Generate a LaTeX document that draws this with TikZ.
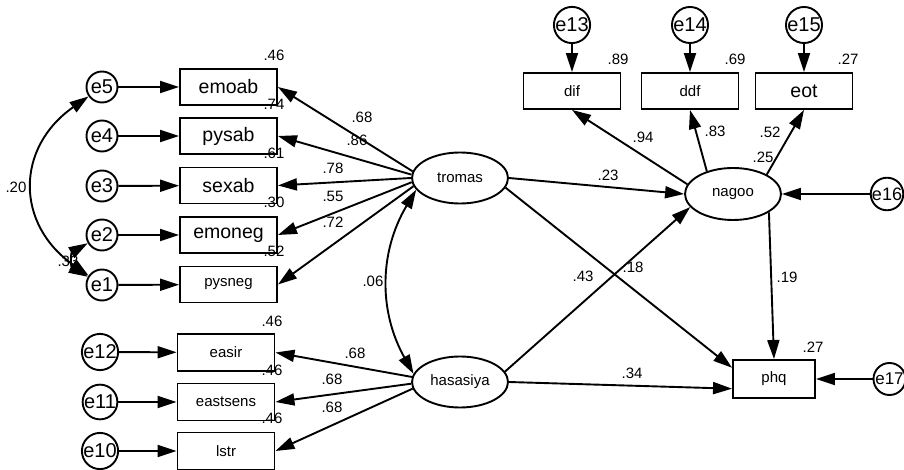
\documentclass[tikz,border=0pt]{standalone}
\usepackage{fontspec}
\setmainfont{Liberation Sans}
\usepackage{tikz}
\usetikzlibrary{arrows.meta,shapes.geometric}

\begin{document}
\begin{tikzpicture}[x=1pt, y=-1pt,
                    obsbox/.style={draw, line width=1.9pt, minimum width=97pt, minimum height=36pt,
                                   inner sep=0pt, font=\fontsize{19.5}{22}\selectfont},
                    obssmall/.style={obsbox, font=\fontsize{15}{18}\selectfont},
                    latent/.style={draw, ellipse, line width=1.9pt, minimum width=96pt, minimum height=51pt,
                                   inner sep=0pt, font=\fontsize{15}{18}\selectfont},
                    errc/.style={draw, circle, line width=1.9pt, minimum size=31pt, inner sep=0pt,
                                 font=\fontsize{20}{22}\selectfont},
                    arr/.style={-{Triangle[length=19pt,width=12pt]}, line width=1.9pt},
                    dbl/.style={{Triangle[length=19pt,width=12pt]}-{Triangle[length=19pt,width=12pt]}, line width=1.9pt},
                    val/.style={inner sep=0pt, font=\fontsize{15}{18}\selectfont}
                ]
                    \useasboundingbox (0,0) rectangle (904,470);
                    \node[errc] (e5) at (102,87) {e5};
                    \node[errc] (e4) at (102,136) {e4};
                    \node[errc] (e3) at (102,186) {e3};
                    \node[errc] (e2) at (102,235) {e2};
                    \node[errc] (e1) at (102,285) {e1};
                    \node[obsbox] (emoab) at (228.5,87) {emoab};
                    \node[obsbox] (pysab) at (228.5,136) {pysab};
                    \node[obsbox] (sexab) at (228.5,185.5) {sexab};
                    \node[obsbox] (emoneg) at (228.5,235) {emoneg};
                    \node[obssmall] (pysneg) at (228.5,284.5) {pysneg};
                    \node[errc, minimum size=33pt] (e12) at (100,352) {e12};
                    \node[errc, minimum size=33pt] (e11) at (100,402) {e11};
                    \node[errc, minimum size=33pt] (e10) at (100,451) {e10};
                    \node[obssmall, minimum height=37pt] (easir) at (226,352.5) {easir};
                    \node[obssmall, minimum height=37pt] (eastsens) at (226,402) {eastsens};
                    \node[obssmall, minimum height=37pt] (lstr) at (226,451) {lstr};
                    \node[latent] (tromas) at (460,178) {tromas};
                    \node[latent] (hasasiya) at (460,382) {hasasiya};
                    \node[latent, minimum height=52pt] (nagoo) at (733,194) {nagoo};
                    \node[obssmall] (dif) at (572,91) {dif};
                    \node[obssmall] (ddf) at (690,91) {ddf};
                    \node[obsbox] (eot) at (804,91) {eot};
                    \node[errc, minimum size=34pt] (e13) at (572,25) {e13};
                    \node[errc, minimum size=34pt] (e14) at (690,25) {e14};
                    \node[errc, minimum size=34pt] (e15) at (804,25) {e15};
                    \node[obssmall, minimum width=82pt, minimum height=38pt] (phq) at (774,379) {phq};
                    \node[errc, minimum size=32pt, font=\fontsize{18}{20}\selectfont] (e16) at (887,194) {e16};
                    \node[errc, minimum size=32pt, font=\fontsize{17}{20}\selectfont] (e17) at (889.5,379) {e17};

                    \node[val] (r2emoab) at (274,55) {.46};
                    \node[val] (r2pysab) at (274,104) {.74};
                    \node[val] (r2sexab) at (274,153) {.61};
                    \node[val] (r2emoneg) at (274,202) {.30};
                    \node[val] (r2pysneg) at (274,251) {.52};
                    \node[val] (wemoab) at (362,117) {.68};
                    \node[val] (wpysab) at (357,140) {.86};
                    \node[val] (wsexab) at (333,168) {.78};
                    \node[val] (wemoneg) at (333,196) {.55};
                    \node[val] (wpysneg) at (333,222) {.72};
                    \node[val] (cove5e1) at (16,187) {.20};
                    \node[val] (cove2e1) at (68,261) {.33};
                    \node[val] (covlat) at (373,281) {.06};
                    \node[val] (r2easir) at (272,321) {.46};
                    \node[val] (r2eastsens) at (272,370) {.46};
                    \node[val] (r2lstr) at (272,418) {.46};
                    \node[val] (weasir) at (355,353) {.68};
                    \node[val] (weastsens) at (332,379) {.68};
                    \node[val] (wlstr) at (332,407) {.68};
                    \node[val] (r2dif) at (618,59) {.89};
                    \node[val] (r2ddf) at (735,59) {.69};
                    \node[val] (r2eot) at (848,59) {.27};
                    \node[val] (wdif) at (643,137) {.94};
                    \node[val] (wddf) at (715,131) {.83};
                    \node[val] (weot) at (770,132) {.52};
                    \node[val] (r2nagoo) at (763,157) {.25};
                    \node[val] (ptn) at (608,175) {.23};
                    \node[val] (phn) at (583,276) {.43};
                    \node[val] (ptp) at (633,267) {.18};
                    \node[val] (pnp) at (787,277) {.19};
                    \node[val] (r2phq) at (813,347) {.27};
                    \node[val] (php) at (632,373) {.34};

                    \draw[arr] (e5) -- (emoab);
                    \draw[arr] (e4) -- (pysab);
                    \draw[arr] (e3) -- (sexab);
                    \draw[arr] (e2) -- (emoneg);
                    \draw[arr] (e1) -- (pysneg);
                    \draw[arr] (e12) -- (easir);
                    \draw[arr] (e11) -- (eastsens);
                    \draw[arr] (e10) -- (lstr);
                    \draw[arr] (tromas.172) -- (emoab.east);
                    \draw[arr] (tromas.176) -- (pysab.east);
                    \draw[arr] (tromas.180) -- (sexab.east);
                    \draw[arr] (tromas.185) -- (emoneg.east);
                    \draw[arr] (tromas.190) -- (pysneg.east);
                    \draw[arr] (hasasiya.174) -- (easir.east);
                    \draw[arr] (hasasiya.182) -- (eastsens.east);
                    \draw[arr] (hasasiya.188) -- (lstr.east);
                    \draw[dbl] (tromas.195) to[bend right=30] (hasasiya.170);
                    \draw[dbl] (e5.215) to[out=215, in=145, looseness=1.28] (e1.145);
                    \draw[dbl] (e2.210) to[out=210, in=150, looseness=1.5] (e1.150);
                    \draw[arr] (e13) -- (dif);
                    \draw[arr] (e14) -- (ddf);
                    \draw[arr] (e15) -- (eot);
                    \draw[arr] (nagoo.168) -- (dif.south);
                    \draw[arr] (nagoo.139) -- (ddf.south);
                    \draw[arr] (nagoo.30) -- (eot.south);
                    \draw[arr] (tromas.east) -- (nagoo.west);
                    \draw[arr] (tromas.348) -- (phq.165);
                    \draw[arr] (hasasiya.13) -- (nagoo.197);
                    \draw[arr] (hasasiya.east) -- (phq.193);
                    \draw[arr] (nagoo.333) -- (phq.north);
                    \draw[arr] (e16) -- (nagoo);
                    \draw[arr] (e17) -- (phq);
                \end{tikzpicture}
\end{document}
